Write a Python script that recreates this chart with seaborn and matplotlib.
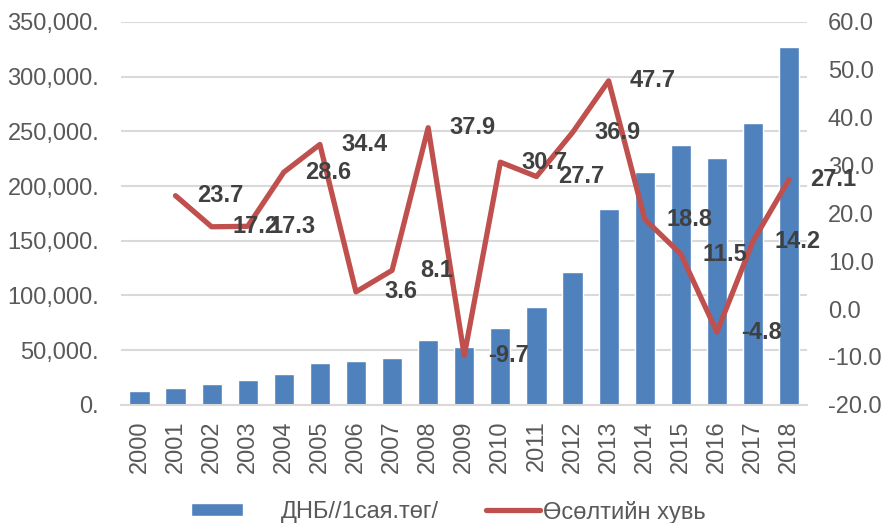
import numpy as np
import pandas as pd
import seaborn as sns
import matplotlib.pyplot as plt
from matplotlib.patches import Patch
from matplotlib.lines import Line2D
from matplotlib.ticker import FuncFormatter

# data
years = [str(y) for y in range(2000, 2019)]
gdp = [12800, 15800, 19000, 23000, 28300, 38600, 40000, 43000, 59000, 53300,
       70000, 89000, 121500, 179400, 213000, 237300, 226000, 258000, 327400]
growth = [np.nan, 23.7, 17.2, 17.3, 28.6, 34.4, 3.6, 8.1, 37.9, -9.7,
          30.7, 27.7, 36.9, 47.7, 18.8, 11.5, -4.8, 14.2, 27.1]

data = pd.DataFrame({'year': years, 'gdp': gdp, 'growth': growth})
data['pos'] = np.arange(len(data))

sns.set_theme(style='white')
plt.rcParams['font.family'] = ['Liberation Sans', 'DejaVu Sans']

bar_color = '#4F81BD'
line_color = '#C0504D'
tick_color = '#595959'

fig, ax = plt.subplots(figsize=(8.86, 5.23), dpi=100)
plt.subplots_adjust(left=0.137, right=0.911, top=0.958, bottom=0.226)

sns.barplot(x='year', y='gdp', data=data, color=bar_color, width=0.56,
            saturation=1, ax=ax, zorder=2)
ax.set_ylim(0, 350000)
ax.set_yticks(np.arange(0, 350001, 50000))
ax.yaxis.set_major_formatter(FuncFormatter(lambda v, p: f'{v:,.0f}.'))
ax.grid(axis='y', color='#D9D9D9', linewidth=1.5, zorder=0)
ax.set_axisbelow(True)
ax.set_xlim(-0.5, len(years) - 0.5)
ax.set_xlabel('')
ax.set_ylabel('')
ax.tick_params(axis='x', labelrotation=90, pad=11, length=0, labelsize=17, labelcolor=tick_color)
ax.tick_params(axis='y', pad=16, length=0, labelsize=17, labelcolor=tick_color)
for s in ['top', 'right', 'left']:
    ax.spines[s].set_visible(False)
ax.spines['bottom'].set_color('#D9D9D9')
ax.spines['bottom'].set_linewidth(1.5)

# growth rate on the secondary axis
ax2 = ax.twinx()
sns.lineplot(x='pos', y='growth', data=data, color=line_color, linewidth=3.8, ax=ax2)
ax2.set_ylim(-20, 60)
ax2.set_yticks(np.arange(-20, 61, 10))
ax2.yaxis.set_major_formatter(FuncFormatter(lambda v, p: f'{v:.1f}'))
ax2.set_ylabel('')
ax2.set_xlabel('')
ax2.tick_params(axis='y', pad=15, length=0, labelsize=17, labelcolor=tick_color)
for s in ax2.spines.values():
    s.set_visible(False)
ax2.set_xlim(-0.5, len(years) - 0.5)

# value labels, shifted to the right of each point
for x, v in zip(data['pos'], data['growth']):
    if np.isnan(v):
        continue
    ax2.annotate(f'{v:.1f}', (x, v), xytext=(32, 0), textcoords='offset points',
                 ha='center', va='center', fontsize=17, fontweight='bold', color='#404040')

# two legends so the gaps between symbol and text can differ (like the original)
leg1 = fig.legend(handles=[Patch(facecolor=bar_color, label='ДНБ//1сая.төг/')],
                  loc='center left', bbox_to_anchor=(0.216, 0.021), frameon=False,
                  fontsize=17, handlelength=2.2, handleheight=0.5, handletextpad=1.6,
                  borderpad=0, borderaxespad=0, labelcolor=tick_color)
leg2 = fig.legend(handles=[Line2D([0], [0], color=line_color, linewidth=3.8, label='Өсөлтийн хувь')],
                  loc='center left', bbox_to_anchor=(0.548, 0.021), frameon=False,
                  fontsize=17, handlelength=2.3, handletextpad=0.15,
                  borderpad=0, borderaxespad=0, labelcolor=tick_color)

plt.savefig('out.png', dpi=100)
